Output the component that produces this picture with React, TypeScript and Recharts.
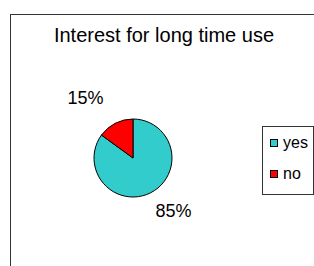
import React from "react";
import { PieChart, Pie, Cell, Legend } from "recharts";

const categories = ["yes", "no"];
const values = [85, 15];
const labels = ["85%", "15%"];
const colors = ["#33CCCC", "#FF0000"];

const data = categories.map((c, i) => ({ name: c, value: values[i], label: labels[i] }));

const RAD = Math.PI / 180;
const FONT = "'Liberation Sans', Arial, sans-serif";

const renderLabel = (props: any) => {
  const { cx, cy, midAngle, outerRadius, index } = props;
  const r = outerRadius + 24;
  const cos = Math.cos(-midAngle * RAD);
  const sin = Math.sin(-midAngle * RAD);
  const x = cx + r * cos + (cos >= 0 ? 12 : -19);
  const y = cy + r * sin - 3.5;
  return (
    <text
      x={x}
      y={y}
      textAnchor="middle"
      dominantBaseline="central"
      fontFamily={FONT}
      fontSize={18}
      fill="#000"
    >
      {data[index].label}
    </text>
  );
};

const LegendContent = () => {
  return (
    <div
      style={{
        border: "1px solid #333",
        background: "#fff",
        width: 52,
        height: 69,
        boxSizing: "border-box",
        paddingTop: 7.5,
        paddingLeft: 7,
        fontFamily: FONT,
        fontSize: 16,
        color: "#000",
        overflow: "hidden",
      }}
    >
      {data.map((d, i) => (
        <div
          key={d.name}
          style={{ display: "flex", alignItems: "center", height: 17, marginBottom: i === 0 ? 13.5 : 0, whiteSpace: "nowrap" }}
        >
          <span
            style={{
              display: "inline-block",
              width: 6,
              height: 6,
              border: "1px solid #000",
              background: colors[i],
              marginRight: 5,
              flex: "none",
            }}
          />
          <span>{d.name}</span>
        </div>
      ))}
    </div>
  );
};

export default function App() {
  return (
    <div style={{ position: "absolute", left: 0, top: 0, width: 314, height: 266, background: "#fff", overflow: "hidden" }}>
      <div
        style={{
          position: "absolute",
          left: 10,
          top: 14,
          width: 320,
          height: 280,
          border: "1px solid #333",
          boxSizing: "border-box",
        }}
      />
      <div
        style={{
          position: "absolute",
          left: 10,
          top: 24,
          width: 308,
          textAlign: "center",
          fontFamily: FONT,
          fontSize: 20,
          color: "#000",
          whiteSpace: "nowrap",
        }}
      >
        Interest for long time use
      </div>
      <div style={{ position: "absolute", left: 0, top: 0 }}>
        <PieChart width={314} height={266} margin={{ top: 0, right: 0, bottom: 0, left: 0 }}>
          <Pie
            data={data}
            dataKey="value"
            nameKey="name"
            cx={133}
            cy={158}
            outerRadius={39}
            startAngle={90}
            endAngle={-270}
            stroke="#000"
            strokeWidth={1}
            label={renderLabel}
            labelLine={false}
            isAnimationActive={false}
          >
            {data.map((d, i) => (
              <Cell key={d.name} fill={colors[i]} />
            ))}
          </Pie>
          <Legend
            content={<LegendContent />}
            layout="vertical"
            wrapperStyle={{ position: "absolute", left: 262, top: 126, width: 52, height: 69 }}
          />
        </PieChart>
      </div>
    </div>
  );
}
